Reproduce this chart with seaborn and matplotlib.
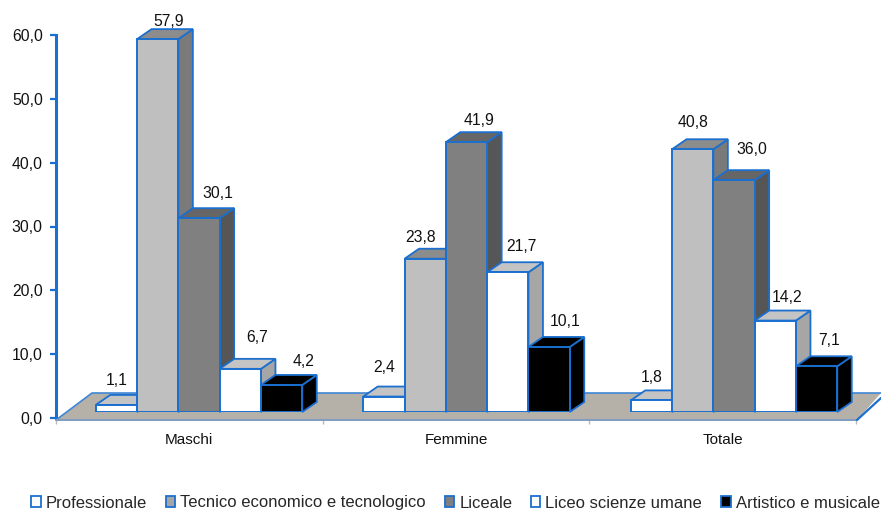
import matplotlib
matplotlib.use("Agg")
import matplotlib.pyplot as plt
from matplotlib.patches import Polygon, Patch
import pandas as pd
import seaborn as sns

W, H = 881, 513

# data
aree = ["Maschi", "Femmine", "Totale"]
indirizzi = [
    "Professionale",
    "Tecnico economico e tecnologico",
    "Liceale",
    "Liceo scienze umane",
    "Artistico e musicale",
]
professionale = [1.1, 2.4, 1.8]
tecnico = [57.9, 23.8, 40.8]
liceale = [30.1, 41.9, 36.0]
scienze_umane = [6.7, 21.7, 14.2]
artistico = [4.2, 10.1, 7.1]
y_ticks = [0, 10, 20, 30, 40, 50, 60]

# colours: front, top, side, legend
fronts = ["#FFFFFF", "#BFBFBF", "#808080", "#FFFFFF", "#000000"]
tops = ["#C4C4C4", "#8C8C8C", "#666666", "#C4C4C4", "#000000"]
sides = ["#A6A6A6", "#7A7A7A", "#565656", "#A6A6A6", "#000000"]
legend_cols = ["#FFFFFF", "#A6A6A6", "#7F7F7F", "#FFFFFF", "#000000"]
BLUE = "#1A6FCF"

# label nudges in pixels (x from bar centre, y above the front top), same order as bars
label_dx = [[0, 0, 0], [11, -5, 0], [19, 13, 18], [17, 14, 12], [22, 16, 13]]
label_dy = [[24, 29, 23], [18, 21, 27], [25, 22, 31], [31, 26, 23], [23, 25, 26]]

df = pd.DataFrame({
    "area": aree * 5,
    "indirizzo": [i for i in indirizzi for _ in aree],
    "pct": professionale + tecnico + liceale + scienze_umane + artistico,
})

sns.set_theme(style="white")
plt.rcParams["font.family"] = ["Liberation Sans", "DejaVu Sans"]

fig = plt.figure(figsize=(W / 100, H / 100), dpi=100)


def rect(left, top, right, bottom):
    return [left / W, 1 - bottom / H, (right - left) / W, (bottom - top) / H]


def px(x, y):
    return (x / W, 1 - y / H)


# axis frame with ticks and labels
ax_frame = fig.add_axes(rect(56, 35, 856, 418))
ax_frame.set_xlim(0, 3)
ax_frame.set_ylim(0, 60)
ax_frame.set_yticks(y_ticks)
ax_frame.set_yticklabels([f"{v:.1f}".replace(".", ",") for v in y_ticks], fontsize=11.3, color="#111111")
ax_frame.set_xticks([0, 1, 2, 3])
ax_frame.set_xticklabels([])
ax_frame.set_xticks([0.5, 1.5, 2.5], minor=True)
ax_frame.set_xticklabels(aree, minor=True, fontsize=11, color="#111111")
ax_frame.tick_params(axis="y", length=4.5, width=1.6, color=BLUE, left=True, pad=5)
ax_frame.tick_params(axis="x", which="major", length=4, width=1, color="#B8B8B8", bottom=True)
ax_frame.tick_params(axis="x", which="minor", length=0, pad=10.5)
sns.despine(ax=ax_frame, top=True, right=True, bottom=True)
ax_frame.spines["left"].set_color(BLUE)
ax_frame.spines["left"].set_linewidth(2.2)
ax_frame.patch.set_alpha(0)

# bars
ax = fig.add_axes(rect(65.25, 0, 867.75, 412))
ax.patch.set_alpha(0)
sns.barplot(
    data=df, x="area", y="pct", hue="indirizzo", hue_order=indirizzi, order=aree,
    palette=fronts, saturation=1, width=0.772, gap=0, edgecolor=BLUE, linewidth=1.4,
    legend=False, ax=ax,
)
ax.set_xlim(-0.5, 2.5)
ax.set_ylim(0, 412 / 6.44)
ax.axis("off")

# floor
floor = Polygon(
    [px(56, 420), px(92, 393), px(881, 393), px(857, 420)],
    closed=True, transform=fig.transFigure, facecolor="#B5B1A9", edgecolor="none",
    clip_on=False, zorder=0.5,
)
ax.add_patch(floor)
for pts, col, lw in [
    ([(56, 420), (92, 393), (881, 393)], "#3F86D6", 1.2),
    ([(56, 420), (857, 420)], "#7F9CBF", 1.4),
    ([(857, 420), (881, 398)], BLUE, 1.6),
]:
    ax.plot(
        [px(*p)[0] for p in pts], [px(*p)[1] for p in pts], color=col, lw=lw,
        transform=fig.transFigure, clip_on=False, zorder=0.6,
    )

# 3d sides from the bars that seaborn drew
dx = 14.5 / 267.5
dy = 10 / 6.44
for h, cont in enumerate(ax.containers):
    for g, bar in enumerate(cont.patches):
        x0, w, v = bar.get_x(), bar.get_width(), bar.get_height()
        x1 = x0 + w
        z = 2 + g * 10 + h
        bar.set_zorder(z + 0.2)
        ax.add_patch(Polygon(
            [(x1, 0), (x1 + dx, dy), (x1 + dx, v + dy), (x1, v)], closed=True,
            facecolor=sides[h], edgecolor=BLUE, lw=1.3, zorder=z, clip_on=False,
        ))
        ax.add_patch(Polygon(
            [(x0, v), (x0 + dx, v + dy), (x1 + dx, v + dy), (x1, v)], closed=True,
            facecolor=tops[h], edgecolor=BLUE, lw=1.3, zorder=z + 0.1, clip_on=False,
        ))
        ax.text(
            x0 + w / 2 + label_dx[h][g] / 267.5, v + label_dy[h][g] / 6.44,
            f"{v:.1f}".replace(".", ","), ha="center", va="center",
            fontsize=11.3, color="#111111", zorder=100, clip_on=False,
        )

# legend
handles = [Patch(facecolor=c, edgecolor=BLUE, linewidth=1.3) for c in legend_cols]
fig.legend(
    handles, indirizzi, loc="center", bbox_to_anchor=(455.5 / W, 1 - 503 / H), ncol=5, frameon=False,
    fontsize=12, handlelength=0.55, handleheight=0.6, handletextpad=0.3, columnspacing=1.15,
    borderpad=0, borderaxespad=0,
)

fig.savefig("out.png", dpi=100)
